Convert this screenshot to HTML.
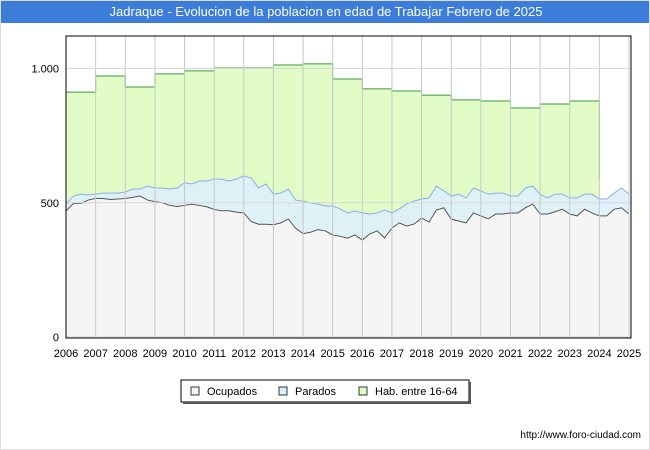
<!DOCTYPE html>
<html><head><meta charset="utf-8"><style>
body{margin:0;background:#fff;font-family:"Liberation Sans",sans-serif;}
#wrap{position:relative;width:650px;height:450px;overflow:hidden;border:1px solid #ddd;box-sizing:border-box}
#title{position:absolute;left:0;top:0;width:650px;height:22px;background:#3b7dd8;color:#fff;font-size:13px;text-align:center;line-height:22px}
</style></head><body>
<div id="wrap">
<div id="title">Jadraque - Evolucion de la poblacion en edad de Trabajar Febrero de 2025</div>
<svg id="chart" width="650" height="450" style="position:absolute;left:0;top:0"></svg>
</div>
<script>
const years=[2006,2007,2008,2009,2010,2011,2012,2013,2014,2015,2016,2017,2018,2019,2020,2021,2022,2023,2024,2025];
const yTicks=[0,500,1000];
const yTickLabels=["0","500","1.000"];
const hab=[912,972,931,980,991,1002,1002,1013,1017,961,924,916,901,883,879,853,868,879];
const habLast=588;
const ocupados=[469,497,497,510,516,516,512,514,516,520,525,510,504,500,490,486,490,495,490,485,475,470,470,465,462,430,420,420,418,425,440,405,385,390,400,395,380,375,368,380,361,384,395,369,406,425,413,421,443,428,473,481,439,432,425,462,451,440,458,458,462,462,481,495,458,458,466,476,458,451,476,462,451,451,476,481,458];
const parados=[26,28,35,19,16,20,24,22,24,31,26,52,51,55,61,69,84,75,91,96,113,118,111,123,138,162,135,150,114,111,111,105,121,109,95,93,108,102,94,89,101,74,67,104,56,52,82,85,71,90,89,63,86,100,93,93,93,92,78,78,63,63,74,67,74,60,66,56,60,67,56,70,63,63,60,74,74];
const NS="http://www.w3.org/2000/svg";
const svg=document.getElementById('chart');
const X0=65,X1=628,Y0=336,YT=35;
const xs=t=>X0+(t-2006)*(X1-X0)/19;
const ys=v=>Y0-v*0.2685;
function mk(tag,attrs){const e=document.createElementNS(NS,tag);for(const k in attrs)e.setAttribute(k,attrs[k]);svg.appendChild(e);return e;}
const bg=mk('rect',{x:X0,y:YT,width:X1-X0+2,height:Y0-YT+1,fill:'#fff'});


let hp=[];
hab.forEach((v,i)=>{hp.push([xs(years[i]),ys(v)]);hp.push([xs(years[i]+1),ys(v)]);});
hp.push([xs(2024),ys(habLast)]);
let d='M'+xs(2006)+','+ys(0)+' '+hp.map(p=>'L'+p[0]+','+p[1]).join(' ')+' L'+xs(2024)+','+ys(0)+'Z';
const ga=mk('path',{d:d,fill:'#e2fcc8',stroke:'none'});


const gl=mk('path',{d:'M'+hp.map(p=>p[0]+','+p[1]).join(' L'),fill:'none',stroke:'#3a9a3a','stroke-width':1});


const tq=i=>2006+i*0.25;
const tot=ocupados.map((v,i)=>v+parados[i]);
let bp=tot.map((v,i)=>[xs(tq(i)),ys(v)]);
const ba=mk('path',{d:'M'+xs(2006)+','+ys(0)+' '+bp.map(p=>'L'+p[0]+','+p[1]).join(' ')+' L'+xs(2025)+','+ys(0)+'Z',fill:'#ddeeff','fill-opacity':0.85});


const bl=mk('path',{d:'M'+bp.map(p=>p[0]+','+p[1]).join(' L'),fill:'none',stroke:'#8aaee8','stroke-width':1});


let op=ocupados.map((v,i)=>[xs(tq(i)),ys(v)]);
const oa=mk('path',{d:'M'+xs(2006)+','+ys(0)+' '+op.map(p=>'L'+p[0]+','+p[1]).join(' ')+' L'+xs(2025)+','+ys(0)+'Z',fill:'#f5f5f5'});


const ol=mk('path',{d:'M'+op.map(p=>p[0]+','+p[1]).join(' L'),fill:'none',stroke:'#555','stroke-width':1});


years.forEach(y=>{
 const g=mk('line',{x1:xs(y),x2:xs(y),y1:YT,y2:Y0,stroke:'#c8c8c8','stroke-width':1});
 
 
 const t=mk('text',{x:xs(y),y:356,'font-size':11,'text-anchor':'middle',fill:'#000'});
 t.textContent=y;
 
 
});
yTicks.forEach((v,i)=>{
 const g=mk('line',{x1:X0,x2:X1+2,y1:ys(v),y2:ys(v),stroke:'#d8d8d8','stroke-width':1});
 
 
 const t=mk('text',{x:58,y:ys(v)+4,'font-size':11,'text-anchor':'end',fill:'#000'});
 t.textContent=yTickLabels[i];
 
 
});
const fr=mk('rect',{x:X0,y:YT,width:X1-X0+2,height:Y0-YT+1,fill:'none',stroke:'#000','stroke-width':1});


const lg=mk('rect',{x:180,y:379,width:288,height:22,fill:'#fff',stroke:'#000','stroke-width':1});


mk('rect',{x:182,y:401,width:288,height:2,fill:'#555'});
mk('rect',{x:468,y:381,width:2,height:22,fill:'#555'});
const items=[["Ocupados","#f5f5f5",190],["Parados","#ddeeff",278],["Hab. entre 16-64","#e2fcc8",358]];
items.forEach(it=>{
 const r=mk('rect',{x:it[2],y:386,width:8,height:8,fill:it[1],stroke:'#333','stroke-width':1});
 
 
 const t=mk('text',{x:it[2]+16,y:394,'font-size':11,fill:'#000'});
 t.textContent=it[0];
 
 
});
const u=mk('text',{x:640,y:437,'font-size':10,'text-anchor':'end',fill:'#000'});
u.textContent='http://www.foro-ciudad.com';


</script>
</body></html>
